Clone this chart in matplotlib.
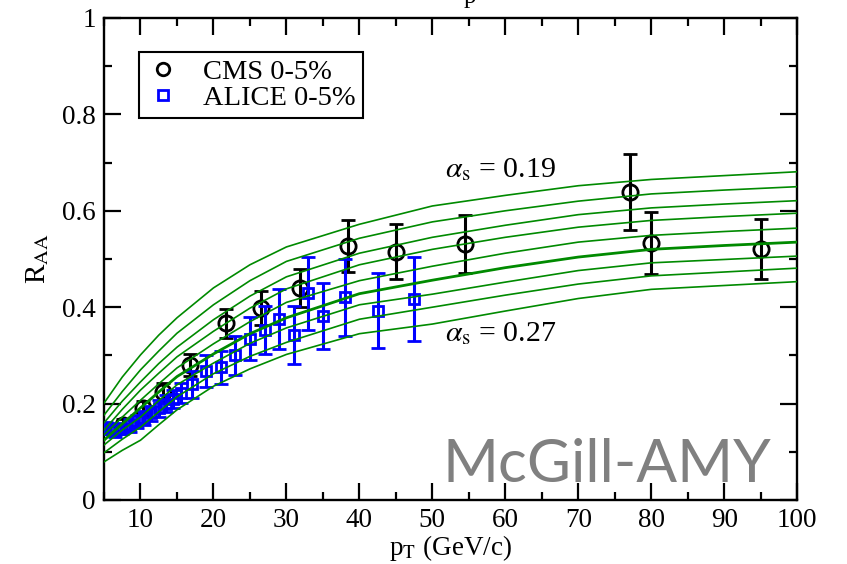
import matplotlib
matplotlib.use("Agg")
import matplotlib.pyplot as plt
from matplotlib.lines import Line2D
import numpy as np

plt.rcParams['font.family'] = ['Liberation Serif', 'DejaVu Serif']
plt.rcParams['mathtext.fontset'] = 'stix'

# ---- data ----
# theory curves (McGill-AMY), alpha_s = 0.19 ... 0.27
curve_pt = [5, 7.5, 10, 12.5, 15, 20, 25, 30, 40, 50, 60, 70, 80, 90, 100]
curve_a019 = [0.201, 0.255, 0.301, 0.342, 0.378, 0.440, 0.488, 0.525, 0.572, 0.610, 0.632, 0.652, 0.665, 0.673, 0.681]
curve_a020 = [0.176, 0.225, 0.270, 0.309, 0.346, 0.405, 0.455, 0.495, 0.543, 0.577, 0.600, 0.620, 0.635, 0.643, 0.650]
curve_a021 = [0.160, 0.205, 0.245, 0.283, 0.317, 0.374, 0.423, 0.463, 0.512, 0.545, 0.570, 0.592, 0.606, 0.614, 0.621]
curve_a022 = [0.145, 0.188, 0.228, 0.263, 0.297, 0.350, 0.398, 0.438, 0.488, 0.520, 0.545, 0.566, 0.580, 0.588, 0.595]
curve_a023 = [0.135, 0.172, 0.207, 0.241, 0.274, 0.324, 0.370, 0.410, 0.455, 0.485, 0.512, 0.535, 0.549, 0.557, 0.564]
curve_a024 = [0.124, 0.158, 0.191, 0.224, 0.256, 0.303, 0.345, 0.378, 0.428, 0.456, 0.482, 0.504, 0.520, 0.528, 0.535]
curve_a025 = [0.114, 0.145, 0.172, 0.206, 0.239, 0.284, 0.325, 0.357, 0.405, 0.427, 0.452, 0.476, 0.492, 0.499, 0.506]
curve_a026 = [0.098, 0.126, 0.151, 0.183, 0.214, 0.262, 0.298, 0.327, 0.375, 0.400, 0.425, 0.448, 0.465, 0.473, 0.481]
curve_a027 = [0.079, 0.103, 0.124, 0.156, 0.187, 0.236, 0.272, 0.302, 0.345, 0.365, 0.392, 0.418, 0.437, 0.445, 0.453]
curves = [curve_a019, curve_a020, curve_a021, curve_a022, curve_a023,
          curve_a024, curve_a025, curve_a026, curve_a027]

# CMS 0-5%
cms_pt = [7.6, 10.3, 13.1, 16.8, 21.7, 26.5, 31.9, 38.4, 45.0, 54.5, 77.1, 80.0, 95.1]
cms_raa = [0.155, 0.190, 0.224, 0.280, 0.367, 0.398, 0.440, 0.527, 0.515, 0.531, 0.639, 0.533, 0.521]
cms_err = [0.012, 0.015, 0.018, 0.022, 0.030, 0.035, 0.040, 0.053, 0.057, 0.060, 0.078, 0.065, 0.063]

# ALICE 0-5%
alice_pt = [5.25, 5.75, 6.5, 7.5, 8.5, 9.5, 10.5, 11.5, 12.5, 13.5, 14.5, 15.5,
            17, 19, 21, 23, 25, 27, 29, 31, 33, 35, 38, 42.5, 47.5]
alice_raa = [0.150, 0.148, 0.143, 0.148, 0.155, 0.163, 0.170, 0.180, 0.190, 0.200, 0.210, 0.222,
             0.240, 0.268, 0.275, 0.300, 0.335, 0.352, 0.375, 0.342, 0.429, 0.382, 0.421, 0.393, 0.417]
alice_err = [0.012, 0.012, 0.012, 0.012, 0.013, 0.014, 0.015, 0.016, 0.017, 0.018, 0.019, 0.021,
             0.028, 0.033, 0.035, 0.040, 0.045, 0.050, 0.062, 0.060, 0.076, 0.068, 0.080, 0.078, 0.088]

xticks = [10, 20, 30, 40, 50, 60, 70, 80, 90, 100]
yticks = [0, 0.2, 0.4, 0.6, 0.8, 1]
ytick_labels = ['0', '0.2', '0.4', '0.6', '0.8', '1']

# ---- figure ----
fig = plt.figure(figsize=(8.47, 5.64), dpi=100)
ax = fig.add_axes([0.1228, 0.1135, 0.8184, 0.8546])

ax.errorbar(cms_pt, cms_raa, yerr=cms_err, fmt='o', color='black', mfc='none',
            ms=11, mew=2.0, elinewidth=2.2, capsize=5, capthick=2.2, zorder=2)
ax.errorbar(alice_pt, alice_raa, yerr=alice_err, fmt='s', color='#0000ff', mfc='none',
            ms=6.5, mew=2.0, elinewidth=2.2, capsize=5, capthick=2.2, zorder=3)

for i, c in enumerate(curves):
    lw = 2.0 if i == 5 else 1.2
    ax.plot(curve_pt, c, color='#008a00', lw=lw, zorder=4)

ax.set_xlim(5, 100)
ax.set_ylim(0, 1)
ax.set_xticks(xticks)
ax.set_xticks(np.arange(5, 100, 5), minor=True)
ax.set_yticks(yticks)
ax.set_yticklabels(ytick_labels)
ax.set_yticks(np.arange(0.1, 1.0, 0.2), minor=True)
ax.tick_params(which='both', direction='in', top=True, right=True, width=1.6,
               labelsize=19.5, pad=6)
ax.tick_params(which='major', length=12)
ax.tick_params(which='minor', length=6)
for s in ax.spines.values():
    s.set_linewidth(1.7)

ax.set_xlabel(r'p$_{\mathrm{T}}$ (GeV/c)', fontsize=19.5, labelpad=0)
ax.set_ylabel(r'R$_{\mathrm{AA}}$', fontsize=21, labelpad=8)

ax.text(51.8, 0.685, r'$\alpha_{\mathrm{s}}$ = 0.19', fontsize=21.5, va='center', ha='left')
ax.text(51.8, 0.345, r'$\alpha_{\mathrm{s}}$ = 0.27', fontsize=21.5, va='center', ha='left')

ax.text(0.489, 0.037, 'McGill-AMY', transform=ax.transAxes, fontsize=43.5,
        family='Lato', color='#808080', ha='left', va='baseline')

handles = [Line2D([], [], ls='none', marker='o', color='black', mfc='none', ms=9, mew=2.0),
           Line2D([], [], ls='none', marker='s', color='#0000ff', mfc='none', ms=7, mew=2.0)]
leg = ax.legend(handles, ['CMS 0-5%', 'ALICE 0-5%'], loc='upper left',
                bbox_to_anchor=(0.0505, 0.929), borderaxespad=0, fontsize=20.5,
                frameon=True, fancybox=False, edgecolor='black', framealpha=1,
                handlelength=1.2, handletextpad=0.8, borderpad=0.25, labelspacing=0.0)
leg.get_frame().set_linewidth(1.5)

fig.text(0.555, 0.9947, 'p', fontsize=18, ha='center', va='baseline')

fig.savefig('out.png', dpi=100)
